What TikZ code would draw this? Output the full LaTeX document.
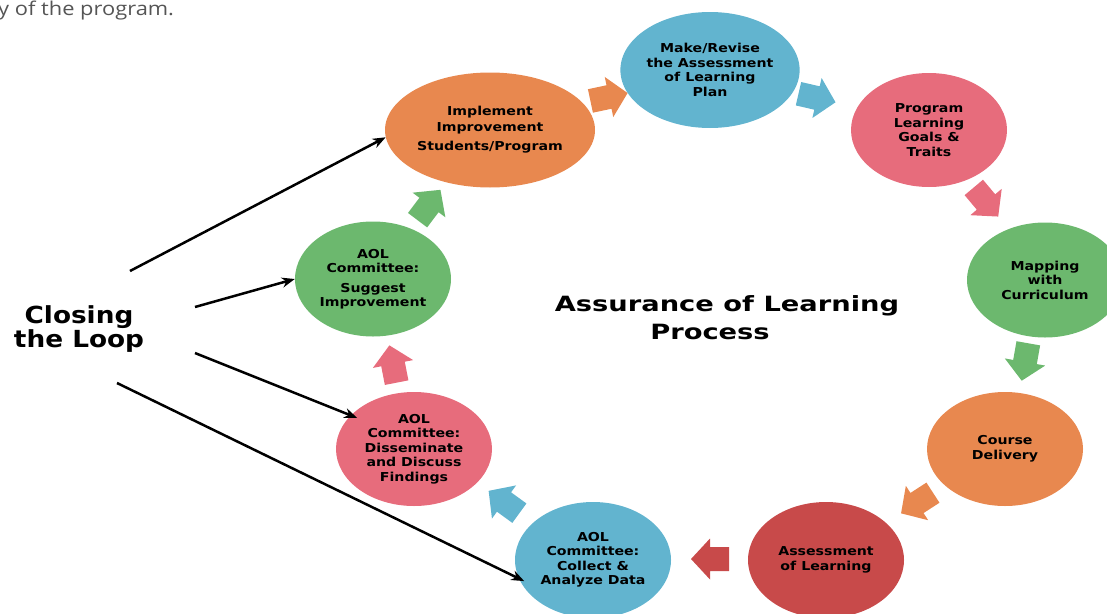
\documentclass[tikz,border=0pt]{standalone}
\usepackage{fontspec}
\usetikzlibrary{shapes.geometric,arrows.meta}
\newfontfamily\nodefnt[FakeStretch=1.15]{DejaVu Sans}
\newfontfamily\titlefnt[FakeStretch=1.3]{DejaVu Sans}
\newfontfamily\loopfnt[FakeStretch=1.12]{DejaVu Sans}
\newfontfamily\topfnt[FakeStretch=1.15]{Open Sans}
\definecolor{cOrange}{HTML}{E8884F}
\definecolor{cBlue}{HTML}{62B4CF}
\definecolor{cPink}{HTML}{E76C7C}
\definecolor{cGreen}{HTML}{6CB86E}
\definecolor{cRed}{HTML}{C84A4A}
\definecolor{topgray}{HTML}{555555}
\begin{document}
\begin{tikzpicture}[x=1pt,y=-1pt,
  stage/.style={ellipse, inner sep=0pt, minimum width=156pt, minimum height=115pt,
    align=center, text=black, font=\nodefnt\bfseries\fontsize{12.3}{14.5}\selectfont},
  link/.style={-{Stealth[length=13pt,width=10pt]}, line width=2.5pt, black},
  blockarrow/.pic={\fill (-19,-12) -- (0,-12) -- (0,-20.5) -- (19,0) -- (0,20.5) -- (0,12) -- (-19,12) -- cycle;}
]
\useasboundingbox (0,0) rectangle (1107,613);

\node[anchor=base west, inner sep=0pt, text=topgray, font=\topfnt\fontsize{19}{22}\selectfont] (toptext) at (-2,15) {y of the program.};

% stages
\node[stage, fill=cOrange, minimum width=210pt, font=\nodefnt\bfseries\fontsize{12.3}{16}\selectfont] (impl) at (490,130) {Implement\\Improvement\\[3pt]Students/Program};
\node[stage, fill=cBlue, minimum height=116pt] (make) at (710,70) {Make/Revise\\the Assessment\\of Learning\\Plan};
\node[stage, fill=cPink, minimum height=114pt] (prog) at (929,130) {Program\\Learning\\Goals \&\\Traits};
\node[stage, fill=cGreen] (map) at (1045,280) {Mapping\\with\\Curriculum};
\node[stage, fill=cOrange, minimum height=114pt] (course) at (1005,449) {Course\\Delivery};
\node[stage, fill=cRed, minimum height=116pt] (assess) at (826,560) {Assessment\\of Learning};
\node[stage, fill=cBlue, minimum height=116pt] (collect) at (593,560) {AOL\\Committee:\\Collect \&\\Analyze Data};
\node[stage, fill=cPink, minimum height=114pt] (dissem) at (414,449) {AOL\\Committee:\\Disseminate\\and Discuss\\Findings};
\node[stage, fill=cGreen] (suggest) at (373,279) {AOL\\Committee:\\[5pt]Suggest\\Improvement};

% block arrows between stages
\pic[color=cOrange, rotate=12] (a1) at (609,97) {blockarrow};
\pic[color=cBlue, rotate=-13] (a2) at (817,98) {blockarrow};
\pic[color=cPink, rotate=-50] (a3) at (986,202) {blockarrow};
\pic[color=cGreen, rotate=-100] (a4) at (1025,362) {blockarrow};
\pic[color=cOrange, rotate=213] (a5) at (917,503) {blockarrow};
\pic[color=cRed, rotate=180] (a6) at (710,559) {blockarrow};
\pic[color=cBlue, rotate=144] (a7) at (504,502) {blockarrow};
\pic[color=cPink, rotate=101] (a8) at (393,364) {blockarrow};
\pic[color=cGreen, rotate=53] (a9) at (429,205) {blockarrow};

% titles
\node[align=center, inner sep=0pt, font=\titlefnt\bfseries\fontsize{21}{28}\selectfont] (title) at (727,318) {Assurance of Learning\\Process\hspace*{34pt}};
\node[align=center, inner sep=0pt, font=\loopfnt\bfseries\fontsize{23.5}{24}\selectfont] (loop) at (79,329) {Closing\\the Loop};

% closing-the-loop connectors
\coordinate (c1) at (130,271);
\coordinate (c2) at (195,307);
\coordinate (c3) at (195,353);
\coordinate (c4) at (117,383);
\draw[link] (c1) -- (impl.184.6);
\draw[link] (c2) -- (suggest.west);
\draw[link, shorten >=-7pt] (c3) -- (dissem.152.8);
\draw[link, shorten >=-6pt] (c4) -- (collect.194);
\end{tikzpicture}
\end{document}
